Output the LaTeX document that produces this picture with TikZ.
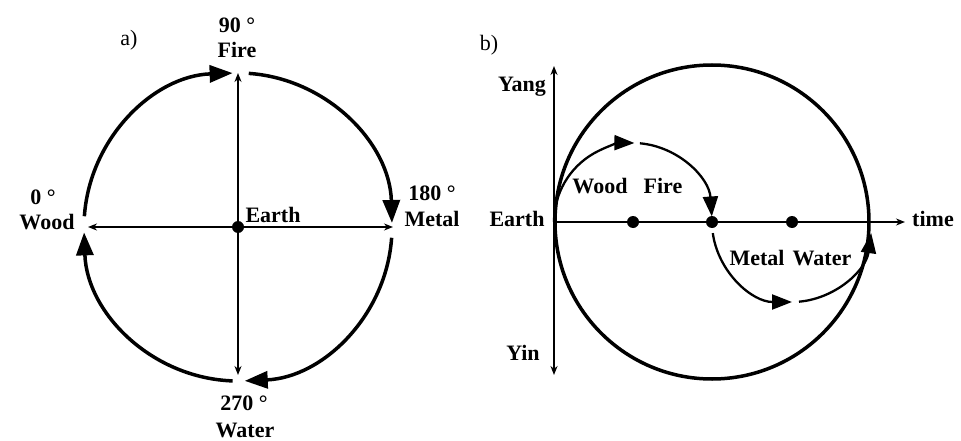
\documentclass[tikz,border=0pt]{standalone}
\usepackage{fontspec}
\setmainfont{Liberation Serif}
\usetikzlibrary{arrows.meta}
\tikzset{tipb/.tip={Stealth[length=9pt,width=7pt]}}
\begin{document}
\begin{tikzpicture}[x=1pt,y=1pt,
  lbl/.style={font=\fontsize{22}{23}\selectfont\bfseries, inner sep=0pt},
  big/.style={line width=3.5pt, -{Triangle[length=23pt,width=17pt]}},
  inner/.style={line width=2.3pt, -{Triangle[length=20pt,width=15pt]}},
  axis/.style={line width=1.5pt},
  dot/.style={circle, fill=black, inner sep=0pt, minimum size=12pt}]
\path[use as bounding box] (0,0) rectangle (961,440);
% ---------- a) ----------
\coordinate (A) at (238,213);
\node[dot] (earthA) at (A) {};
\coordinate (aT) at (238,367);
\coordinate (aB) at (238,65);
\coordinate (aL) at (88,213);
\coordinate (aR) at (393,213);
\draw[axis, tipb-tipb] (aB) -- (aT);
\draw[axis, tipb-tipb] (aL) -- (aR);
\draw[big] ([shift={(176:154)}]A) arc[start angle=176, end angle=92, radius=154];
\draw[big] ([shift={(86:154)}]A) arc[start angle=86, end angle=1.5, radius=154];
\draw[big] ([shift={(-4:154)}]A) arc[start angle=-4, end angle=-87.5, radius=154];
\draw[big] ([shift={(-92:154)}]A) arc[start angle=-92, end angle=-178, radius=154];
\node[lbl] (aa) at (129,400) {\mdseries a)};
\node[lbl] (d90) at (237,415) {90 °};
\node[lbl] (fireA) at (237,390) {Fire};
\node[lbl] (d180) at (432,247) {180 °};
\node[lbl] (metalA) at (432,221) {Metal};
\node[lbl] (d0) at (43,243) {0 °};
\node[lbl] (woodA) at (47,218) {Wood};
\node[lbl] (earthAl) at (273,225) {Earth};
\node[lbl] (d270) at (244,37) {270 °};
\node[lbl] (waterA) at (245,10) {Water};
% ---------- b) ----------
\coordinate (B) at (712,218);
\coordinate (bT) at (554,374);
\coordinate (bB) at (554,65);
\coordinate (bL) at (554,218);
\coordinate (bR) at (905,218);
\draw[axis, tipb-tipb] (bB) -- (bT);
\draw[axis, -tipb] (bL) -- (bR);
\draw[line width=3.5pt] (B) circle[radius=157];
\node[dot] (d1) at (633,218) {};
\node[dot] (d2) at (B) {};
\node[dot] (d3) at (792,218) {};
\coordinate (C1) at (633,218);
\coordinate (C2) at (792,218);
\draw[inner] ([shift={(180:79)}]C1) arc[start angle=180, end angle=89, radius=79];
\draw[inner] ([shift={(85:79)}]C1) arc[start angle=85, end angle=4, radius=79];
\draw[inner] ([shift={(-172:80)}]C2) arc[start angle=-172, end angle=-90, radius=80];
\draw[inner] ([shift={(-85:80)}]C2) arc[start angle=-85, end angle=-8, radius=80];
\node[lbl] (bb) at (489,395) {\mdseries b)};
\node[lbl] (yang) at (522,353) {Yang};
\node[lbl] (earthB) at (517,221) {Earth};
\node[lbl] (yin) at (523,87) {Yin};
\node[lbl] (time) at (933,221) {time};
\node[lbl] (woodB) at (600,254) {Wood};
\node[lbl] (fireB) at (663,254) {Fire};
\node[lbl] (metalB) at (757,182) {Metal};
\node[lbl] (waterB) at (822,182) {Water};
\end{tikzpicture}
\end{document}
